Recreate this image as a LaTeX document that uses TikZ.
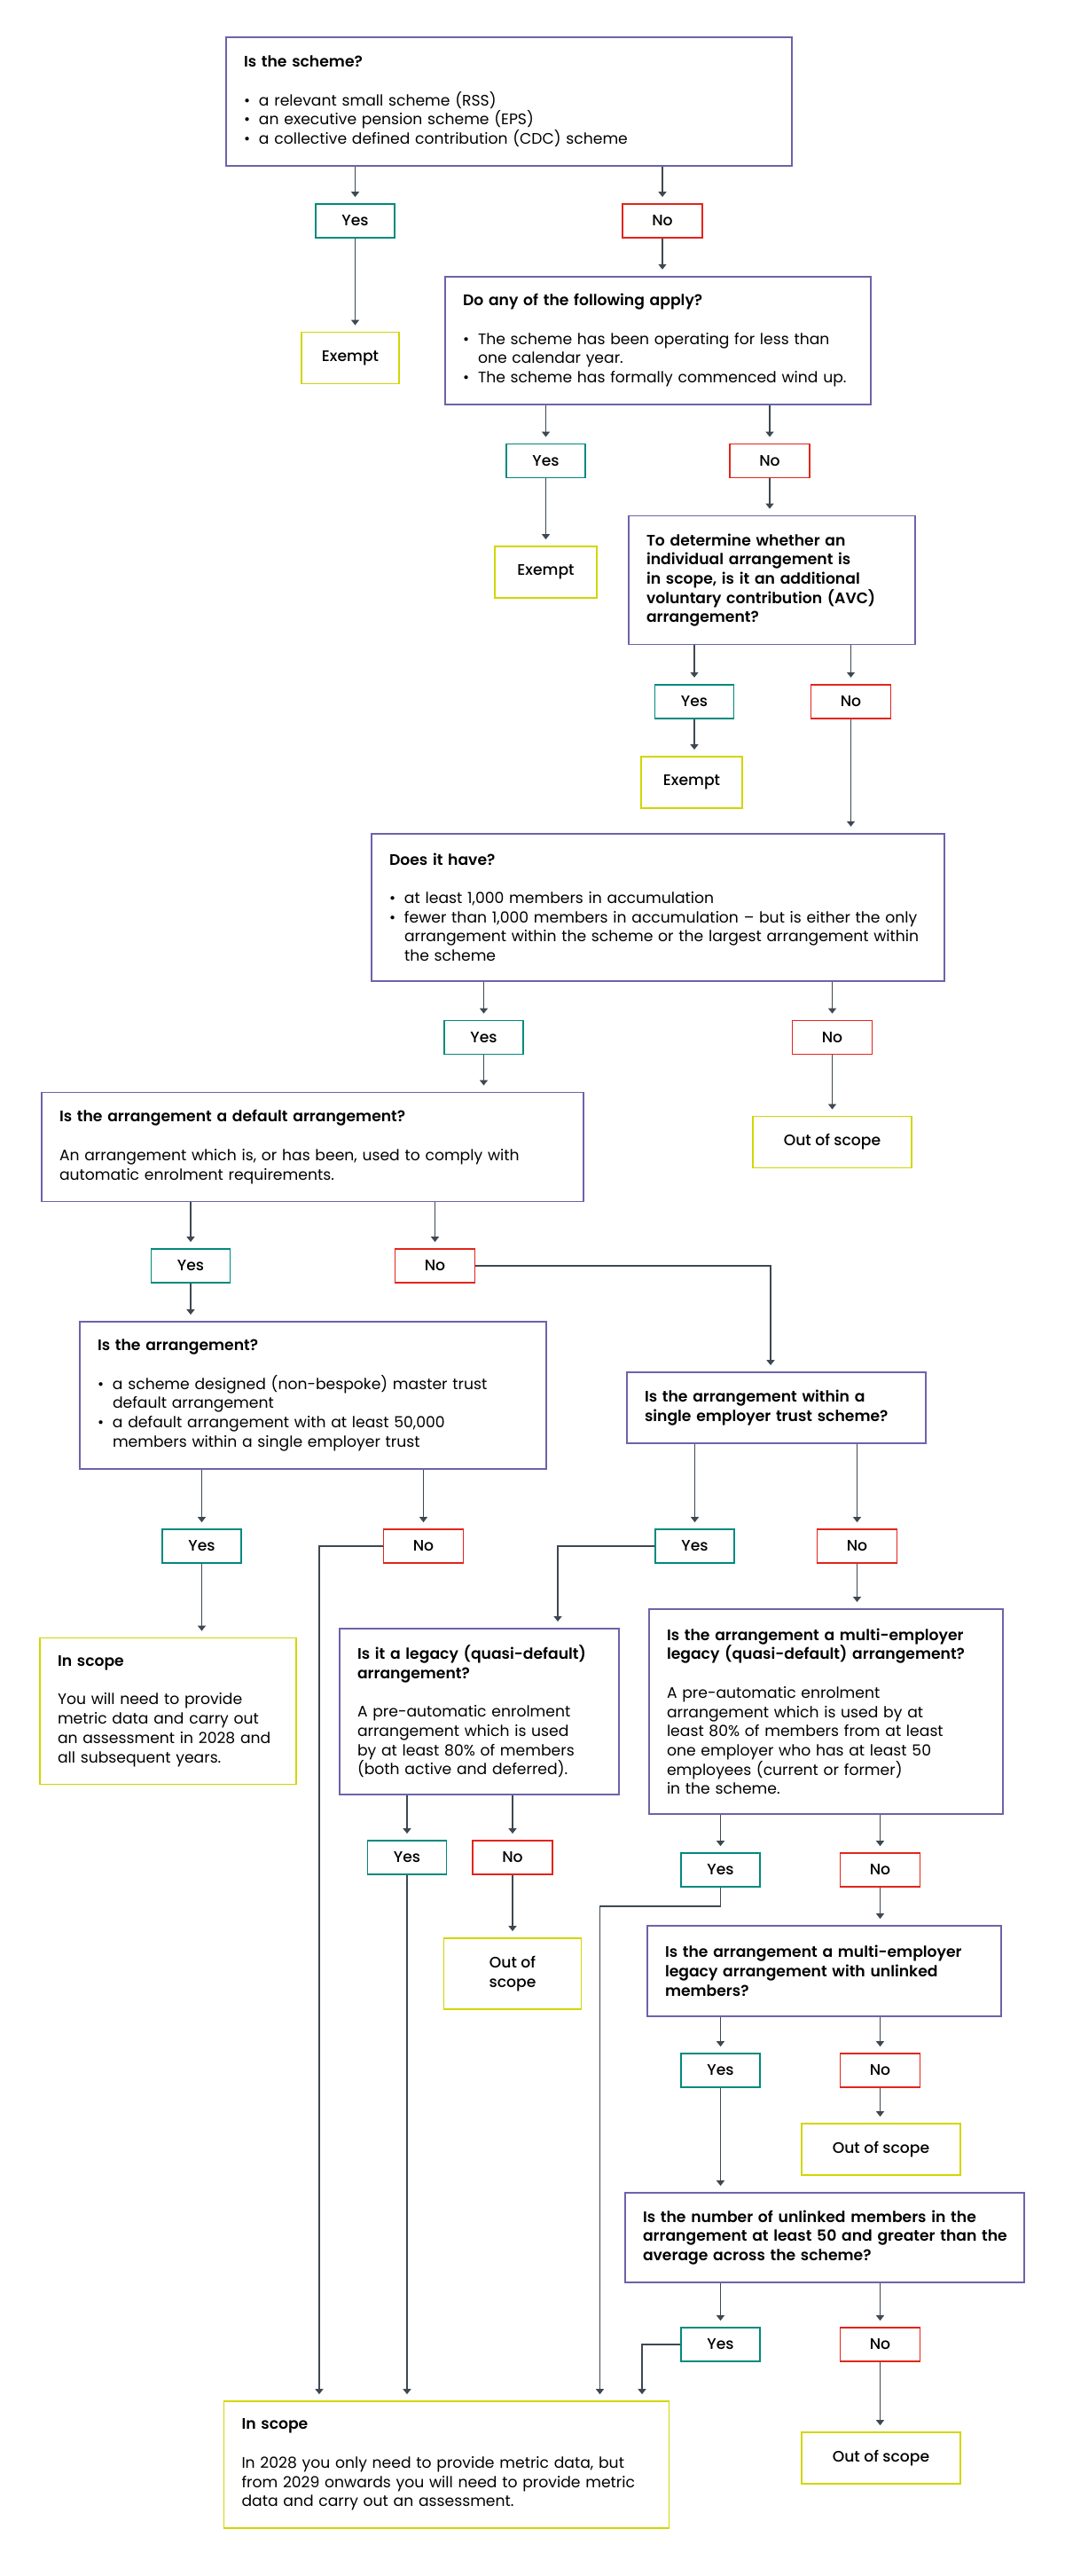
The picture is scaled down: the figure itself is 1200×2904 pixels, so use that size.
\documentclass[tikz,border=0pt]{standalone}
\usepackage{fontspec}
\setmainfont{Poppins}[BoldFont={Poppins SemiBold}]
\newfontfamily\labelfont{Poppins Medium}
\usetikzlibrary{arrows.meta}
\definecolor{boxpurple}{HTML}{6E62AA}
\definecolor{yesgreen}{HTML}{00897E}
\definecolor{nored}{HTML}{E3241B}
\definecolor{endyellow}{HTML}{D2D600}
\definecolor{arrowgrey}{HTML}{3E4852}
\newcommand{\qbul}{\makebox[17pt][l]{\textbullet}}
\newcommand{\qind}{\hspace*{17pt}}
\begin{document}
\begin{tikzpicture}
	[x=1pt,y=-1pt,
	every node/.style={font=\fontsize{17.2}{21.7}\selectfont,line width=1.8pt},
	qnode/.style 2 args={draw=boxpurple,align=left,inner xsep=20pt,inner ysep=0pt,text width=#1,minimum height=#2},
	scopenode/.style 2 args={qnode={#1}{#2},draw=endyellow},
	yesnode/.style={draw=yesgreen,font=\fontsize{17.2}{21.7}\labelfont,minimum width=89pt,minimum height=38pt,inner sep=0pt},
	nonode/.style={draw=nored,font=\fontsize{17.2}{21.7}\labelfont,minimum width=90pt,minimum height=38pt,inner sep=0pt},
	endnode/.style 2 args={draw=endyellow,font=\fontsize{17.2}{21.7}\labelfont,align=center,minimum width=#1,minimum height=#2,inner sep=0pt},
	arr/.style={draw=arrowgrey,line width=1.8pt,-{Triangle[width=9pt,length=6pt]},shorten >=7pt}]
	\useasboundingbox (0,0) rectangle (1200,2904);
	% questions
	\node[qnode={598pt}{145pt},name=q1] at (574,114.5)
	{\textbf{Is the scheme?}\\[21.7pt]
		\qbul a relevant small scheme (RSS)\\
		\qbul an executive pension scheme (EPS)\\
		\qbul a collective defined contribution (CDC) scheme};
	\node[qnode={440pt}{144pt},name=q2] at (742,383.7)
	{\textbf{Do any of the following apply?}\\[21.7pt]
		\qbul The scheme has been operating for less than\\
		\qind one calendar year.\\
		\qbul The scheme has formally commenced wind up.};
	\node[qnode={283pt}{145pt},name=q3] at (870.5,654)
	{\textbf{To determine whether an}\\
		\textbf{individual arrangement is}\\
		\textbf{in scope, is it an additional}\\
		\textbf{voluntary contribution (AVC)}\\
		\textbf{arrangement?}};
	\node[qnode={606pt}{166pt},name=q4] at (742,1022.7)
	{\textbf{Does it have?}\\[21.7pt]
		\qbul at least 1,000 members in accumulation\\
		\qbul fewer than 1,000 members in accumulation – but is either the only\\
		\qind arrangement within the scheme or the largest arrangement within\\
		\qind the scheme};
	\node[qnode={571pt}{123pt},name=q5] at (352.5,1293)
	{\textbf{Is the arrangement a default arrangement?}\\[21.7pt]
		An arrangement which is, or has been, used to comply with\\
		automatic enrolment requirements.};
	\node[qnode={486pt}{166pt},name=q6] at (353,1573)
	{\textbf{Is the arrangement?}\\[21.7pt]
		\qbul a scheme designed (non-bespoke) master trust\\
		\qind default arrangement\\
		\qbul a default arrangement with at least 50,000\\
		\qind members within a single employer trust};
	\node[qnode={297pt}{80pt},name=q7] at (875.5,1587)
	{\textbf{Is the arrangement within a}\\
		\textbf{single employer trust scheme?}};
	\node[qnode={275pt}{187pt},name=q8] at (540.5,1929.4)
	{\textbf{Is it a legacy (quasi-default)}\\
		\textbf{arrangement?}\\[21.7pt]
		A pre-automatic enrolment\\
		arrangement which is used\\
		by at least 80\% of members\\
		(both active and deferred).};
	\node[qnode={359pt}{231pt},name=q9] at (931.5,1929.4)
	{\textbf{Is the arrangement a multi-employer}\\
		\textbf{legacy (quasi-default) arrangement?}\\[21.7pt]
		A pre-automatic enrolment\\
		arrangement which is used by at\\
		least 80\% of members from at least\\
		one employer who has at least 50\\
		employees (current or former)\\
		in the scheme.};
	\node[qnode={359pt}{102pt},name=q10] at (929.5,2222)
	{\textbf{Is the arrangement a multi-employer}\\
		\textbf{legacy arrangement with unlinked}\\
		\textbf{members?}};
	\node[qnode={410pt}{101pt},name=q11] at (930,2522.5)
	{\mbox{\textbf{Is the number of unlinked members in the}}\\
		\mbox{\textbf{arrangement at least 50 and greater than the}}\\
		\textbf{average across the scheme?}};
	% yes / no
	\node[yesnode,name=y1] at (400.5,249) {Yes};
	\node[nonode,name=n1] at (747,249) {No};
	\node[yesnode,name=y2] at (615.5,519.5) {Yes};
	\node[nonode,name=n2] at (868,519.5) {No};
	\node[yesnode,name=y3] at (783,790.7) {Yes};
	\node[nonode,name=n3] at (959.5,790.7) {No};
	\node[yesnode,name=y4] at (545.5,1169.5) {Yes};
	\node[nonode,name=n4] at (938.5,1169.5) {No};
	\node[yesnode,name=y5] at (215,1427) {Yes};
	\node[nonode,name=n5] at (490.5,1427) {No};
	\node[yesnode,name=y6] at (227.5,1743) {Yes};
	\node[nonode,name=n6] at (477.5,1743) {No};
	\node[yesnode,name=y7] at (783.5,1743) {Yes};
	\node[nonode,name=n7] at (966.5,1743) {No};
	\node[yesnode,name=y8] at (459,2094) {Yes};
	\node[nonode,name=n8] at (578,2094) {No};
	\node[yesnode,name=y9] at (812.5,2108) {Yes};
	\node[nonode,name=n9] at (992.5,2108) {No};
	\node[yesnode,name=y10] at (812.5,2334) {Yes};
	\node[nonode,name=n10] at (992.5,2334) {No};
	\node[yesnode,name=y11] at (812.5,2643) {Yes};
	\node[nonode,name=n11] at (992.5,2643) {No};
	% outcomes
	\node[endnode={110pt}{58pt},name=e1] at (395,403.5) {Exempt};
	\node[endnode={115pt}{58pt},name=e2] at (615.5,645) {Exempt};
	\node[endnode={114pt}{58pt},name=e3] at (780,882) {Exempt};
	\node[endnode={179pt}{58pt},name=o1] at (938.5,1287.5) {Out of scope};
	\node[endnode={155pt}{80pt},name=o2] at (578,2225) {Out of\\scope};
	\node[endnode={179pt}{58pt},name=o3] at (993.5,2423) {Out of scope};
	\node[endnode={179pt}{58pt},name=o4] at (993.5,2771) {Out of scope};
	\node[scopenode={249pt}{165pt},name=s1] at (189.5,1929)
	{\textbf{In scope}\\[21.7pt]
		You will need to provide\\
		metric data and carry out\\
		an assessment in 2028 and\\
		all subsequent years.};
	\node[scopenode={462pt}{143pt},name=s2] at (503.5,2778.5)
	{\textbf{In scope}\\[21.7pt]
		In 2028 you only need to provide metric data, but\\
		from 2029 onwards you will need to provide metric\\
		data and carry out an assessment.};
	% connectors
	\coordinate (s2a) at ([xshift=-143.5pt]s2.north);
	\coordinate (s2b) at ([xshift=173pt]s2.north);
	\coordinate (s2c) at ([xshift=220.5pt]s2.north);
	\foreach \a/\b in {q1/y1,q1/n1,q2/y2,q2/n2,q3/y3,q3/n3,q4/y4,q4/n4,q5/y5,q5/n5,
		q6/y6,q6/n6,q7/y7,q7/n7,q8/y8,q8/n8,q9/y9,q9/n9,q10/y10,q10/n10,q11/y11,q11/n11}
	{
		\draw[arr] (\a.south -| \b.north) -- (\b.north);
	}
	\foreach \a/\b in {y1/e1,n1/q2,y2/e2,n2/q3,y3/e3,n3/q4,y4/q5,n4/o1,y5/q6,y6/s1,
		n7/q9,y8/s2,n8/o2,n9/q10,y10/q11,n10/o3,n11/o4}
	{
		\draw[arr] (\a.south) -- (\a.south |- \b.north);
	}
	\draw[arr] (n5.east) -| ([xshift=-6.5pt]q7.north);
	\draw[arr] (n6.west) -| (s2a);
	\draw[arr] (y7.west) -| ([xshift=88.5pt]q8.north);
	\draw[arr] (y9.south) -- ++(0,21) -| (s2b);
	\draw[arr] (y11.west) -| (s2c);
\end{tikzpicture}
\end{document}
